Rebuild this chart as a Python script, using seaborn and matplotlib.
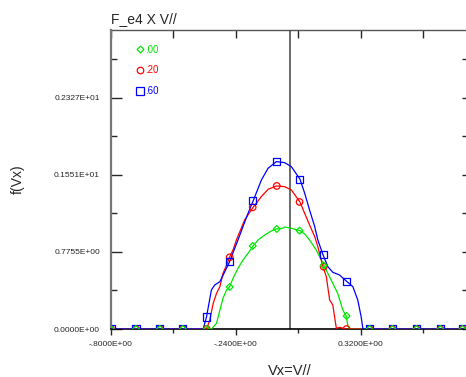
import numpy as np
import pandas as pd
import seaborn as sns
import matplotlib.pyplot as plt
from matplotlib.lines import Line2D

# ---- curve samples (Vx, f) ----
vx_00 = [-0.800, -0.350, -0.327, -0.312, -0.298, -0.282, -0.269, -0.253, -0.231, -0.208,
         -0.186, -0.163, -0.141, -0.111, -0.081, -0.059, -0.029, -0.022, 0.008, 0.047,
         0.068, 0.090, 0.120, 0.150, 0.172, 0.194, 0.216, 0.239, 0.254, 0.261, 0.269, 0.800]
f_00 = [0.0, 0.0, 0.057, 0.191, 0.309, 0.393, 0.423, 0.510, 0.611, 0.695,
        0.762, 0.836, 0.896, 0.946, 0.987, 1.007, 1.015, 1.027, 1.014, 0.990,
        0.957, 0.896, 0.795, 0.661, 0.560, 0.460, 0.359, 0.191, 0.131, 0.040, 0.0, 0.0]

vx_20 = [-0.800, -0.372, -0.357, -0.342, -0.327, -0.312, -0.298, -0.282, -0.269, -0.253,
         -0.238, -0.201, -0.163, -0.126, -0.096, -0.059, -0.022, 0.008, 0.047, 0.068,
         0.090, 0.113, 0.127, 0.150, 0.165, 0.180, 0.194, 0.202, 0.210, 0.224, 0.254, 0.800]
f_20 = [0.0, 0.0, 0.091, 0.258, 0.359, 0.426, 0.560, 0.644, 0.722, 0.796,
        0.896, 1.098, 1.225, 1.333, 1.406, 1.440, 1.433, 1.400, 1.279, 1.164,
        1.047, 0.930, 0.829, 0.627, 0.527, 0.292, 0.242, 0.124, 0.007, 0.017, 0.0, 0.0]

vx_60 = [-0.800, -0.387, -0.372, -0.350, -0.335, -0.312, -0.290, -0.269, -0.231, -0.186,
         -0.163, -0.126, -0.096, -0.059, -0.022, 0.008, 0.047, 0.068, 0.090, 0.113,
         0.127, 0.150, 0.172, 0.194, 0.224, 0.256, 0.284, 0.306, 0.321, 0.329, 0.800]
f_60 = [0.0, 0.0, 0.121, 0.393, 0.443, 0.477, 0.577, 0.675, 0.896, 1.164,
        1.289, 1.500, 1.618, 1.685, 1.675, 1.635, 1.508, 1.367, 1.198, 1.031,
        0.896, 0.748, 0.627, 0.571, 0.544, 0.480, 0.426, 0.292, 0.124, 0.0, 0.0]

# ---- marker samples ----
mk_vx = [-0.800, -0.688, -0.581, -0.478, -0.371, -0.268, -0.165, -0.057,
         0.045, 0.153, 0.256, 0.359, 0.461, 0.569, 0.676, 0.775]
mk_00 = [0, 0, 0, 0, 0, 0.423, 0.836, 1.007, 0.990, 0.640, 0.131, 0, 0, 0, 0, 0]
mk_20 = [0, 0, 0, 0, 0, 0.722, 1.225, 1.440, 1.279, 0.627, 0, 0, 0, 0, 0, 0]
mk_60 = [0, 0, 0, 0, 0.121, 0.675, 1.289, 1.685, 1.508, 0.748, 0.480, 0, 0, 0, 0, 0]

series = ['.00', '.20', '.60']
colors = {'.00': '#00e600', '.20': '#ff0000', '.60': '#0000ff'}
markers = {'.00': 'D', '.20': 'o', '.60': 's'}
msize = {'.00': 12, '.20': 22, '.60': 26}

xticks = [-0.80, -0.24, 0.32]
xtick_labels = ['-.8000E+00', '-.2400E+00', '0.3200E+00']
xminor = [-0.52, 0.04, 0.60]
yticks = [0.0, 0.7755, 1.551, 2.3265]
ytick_labels = ['0.0000E+00', '0.7755E+00', '0.1551E+01', '0.2327E+01']
yminor = [0.38775, 1.16325, 1.93875, 2.71425]

curves = pd.concat([
    pd.DataFrame({'Vx': vx_00, 'f': f_00, 'set': '.00'}),
    pd.DataFrame({'Vx': vx_20, 'f': f_20, 'set': '.20'}),
    pd.DataFrame({'Vx': vx_60, 'f': f_60, 'set': '.60'}),
])
points = {'.00': mk_00, '.20': mk_20, '.60': mk_60}

sns.set_style("ticks")
plt.rcParams['font.family'] = ['Liberation Sans', 'DejaVu Sans']

fig = plt.figure(figsize=(4.66, 3.77), dpi=100)
ax = fig.add_axes([111 / 466, 48 / 377, 357 / 466, 299 / 377])

for s in series:
    d = curves[curves['set'] == s]
    sns.lineplot(data=d, x='Vx', y='f', color=colors[s], lw=0.9, sort=False,
                 estimator=None, ax=ax, zorder=3)
for s in ['.20', '.60', '.00']:
    sns.scatterplot(x=mk_vx, y=points[s], marker=markers[s], s=msize[s], color=colors[s],
                    facecolor='none', edgecolor=colors[s], linewidth=0.9, ax=ax, zorder=4)

ax.axvline(0, color='#444444', lw=1.1, zorder=2)

ax.set_xlim(-0.8, 0.8)
ax.set_ylim(0, 3.01)
ax.set_xticks(xticks)
ax.set_xticklabels(xtick_labels)
ax.set_xticks(xminor, minor=True)
ax.set_yticks(yticks)
ax.set_yticklabels(ytick_labels)
ax.set_yticks(yminor, minor=True)

ax.tick_params(axis='x', which='major', direction='out', length=4, width=1, pad=5, labelsize=6)
ax.tick_params(axis='x', which='minor', direction='out', length=3, width=1)
ax.tick_params(axis='y', which='major', direction='in', length=8, width=1, pad=8, labelsize=6)
ax.tick_params(axis='y', which='minor', direction='in', length=4, width=1)

ax.spines['left'].set_color('#777777')
ax.spines['left'].set_linewidth(1.6)
ax.spines['bottom'].set_color('black')
ax.spines['bottom'].set_linewidth(1.2)
ax.spines['top'].set_visible(False)
ax.spines['right'].set_visible(False)

top = ax.secondary_xaxis('top')
top.set_xticks(xticks + xminor)
top.tick_params(direction='in', length=6, width=1, labeltop=False)
top.spines['top'].set_color('#555555')
top.spines['top'].set_linewidth(1.0)
right = ax.secondary_yaxis('right')
right.set_yticks(yticks + yminor)
right.tick_params(direction='in', length=4, width=1, labelright=False)
right.spines['right'].set_color('#555555')

ax.set_title('F_e4 X V//', loc='left', fontsize=10, pad=5)
ax.set_xlabel('Vx=V//', fontsize=10.5)
ax.set_ylabel('f(Vx)', fontsize=10)
ax.xaxis.set_label_coords(0.5, -0.117)
ax.yaxis.set_label_coords(-0.241, 0.5)

handles = [Line2D([], [], ls='none', marker=markers[s], mfc='none', mec=colors[s],
                  ms=np.sqrt(msize[s]), mew=0.9) for s in series]
ax.legend(handles, series, loc='upper left', bbox_to_anchor=(0.058, 0.967), frameon=False,
          fontsize=7, labelcolor=[colors[s] for s in series], handlelength=0.8,
          handletextpad=0.1, labelspacing=1.1, borderpad=0)

fig.savefig('out.png', dpi=100)
